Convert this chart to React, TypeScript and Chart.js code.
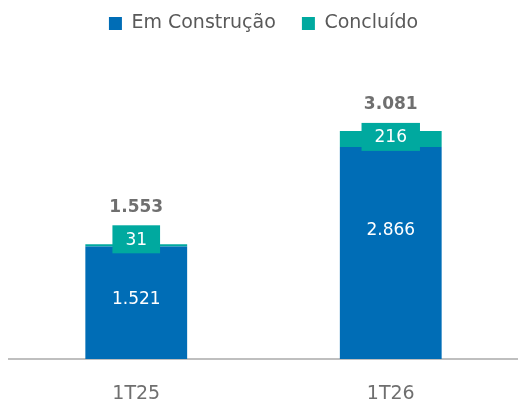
import React, { useEffect, useRef } from "react";
import { Chart, registerables } from "chart.js";

Chart.register(...registerables);

const categories = ["1T25", "1T26"];
const emConstrucao = [1521, 2866];
const concluido = [31, 216];
const totalLabels = ["1.553", "3.081"];
const emConstrucaoLabels = ["1.521", "2.866"];
const concluidoLabels = ["31", "216"];

const BLUE = "#006DB6";
const TEAL = "#00A99F";
const FONT = "'DejaVu Sans', sans-serif";

const labelPlugin = {
  id: "labelPlugin",
  afterDatasetsDraw(chart: any) {
    const ctx = chart.ctx;
    const blueMeta = chart.getDatasetMeta(0);
    const tealMeta = chart.getDatasetMeta(1);
    const blueShift = [0.03, 0.104];
    const boxShift = [-6, -2];
    ctx.save();
    ctx.textAlign = "center";
    ctx.textBaseline = "middle";
    blueMeta.data.forEach((bar: any, i: number) => {
      const top = bar.y;
      const bottom = bar.base;
      const y = (top + bottom) / 2 - (bottom - top) * blueShift[i];
      ctx.fillStyle = "#ffffff";
      ctx.font = `17px ${FONT}`;
      ctx.fillText(emConstrucaoLabels[i], bar.x, y);
    });
    tealMeta.data.forEach((bar: any, i: number) => {
      const cy = (bar.y + bar.base) / 2 + boxShift[i];
      ctx.font = `17px ${FONT}`;
      const w = ctx.measureText(concluidoLabels[i]).width + 26;
      const h = 28;
      ctx.fillStyle = TEAL;
      ctx.fillRect(bar.x - w / 2, cy - h / 2, w, h);
      ctx.fillStyle = "#ffffff";
      ctx.fillText(concluidoLabels[i], bar.x, cy + 1);
      ctx.fillStyle = "#6f6f6f";
      ctx.font = `bold 17px ${FONT}`;
      ctx.fillText(totalLabels[i], bar.x, cy - h / 2 - 18);
    });
    ctx.restore();
  },
};

export default function App() {
  const ref = useRef<HTMLCanvasElement | null>(null);
  useEffect(() => {
    if (!ref.current) return;
    const chart = new Chart(ref.current, {
      type: "bar",
      data: {
        labels: categories,
        datasets: [
          {
            label: "Em Construção",
            data: emConstrucao,
            backgroundColor: BLUE,
            barPercentage: 0.8,
            categoryPercentage: 0.5,
          },
          {
            label: "Concluído",
            data: concluido,
            backgroundColor: TEAL,
            barPercentage: 0.8,
            categoryPercentage: 0.5,
          },
        ],
      },
      options: {
        animation: false,
        responsive: true,
        maintainAspectRatio: false,
        layout: { padding: { left: 9, right: 0, top: 0, bottom: 0 } },
        plugins: {
          legend: {
            position: "top",
            labels: {
              color: "#595959",
              font: { family: FONT, size: 19 },
              boxWidth: 13,
              boxHeight: 13,
              padding: 14,
              generateLabels: (chart: any) => {
                const items = Chart.defaults.plugins.legend.labels.generateLabels(chart);
                if (items[0]) items[0].text = items[0].text + "\u00A0\u00A0";
                return items;
              },
            },
          },
          tooltip: { enabled: false },
        },
        scales: {
          x: {
            stacked: true,
            grid: { display: false, drawTicks: false },
            border: { display: true, color: "#bfbfbf", width: 2 },
            ticks: {
              color: "#6f6f6f",
              font: { family: FONT, size: 19 },
              padding: 24,
            },
            afterFit: (scale: any) => {
              scale.height = 42;
            },
          },
          y: {
            stacked: true,
            display: false,
            min: 0,
            max: 4270,
          },
        },
      },
      plugins: [labelPlugin],
    });
    return () => chart.destroy();
  }, []);
  return (
    <div style={{ position: "absolute", left: 0, top: 0, width: 518, height: 401 }}>
      <canvas ref={ref} />
    </div>
  );
}
